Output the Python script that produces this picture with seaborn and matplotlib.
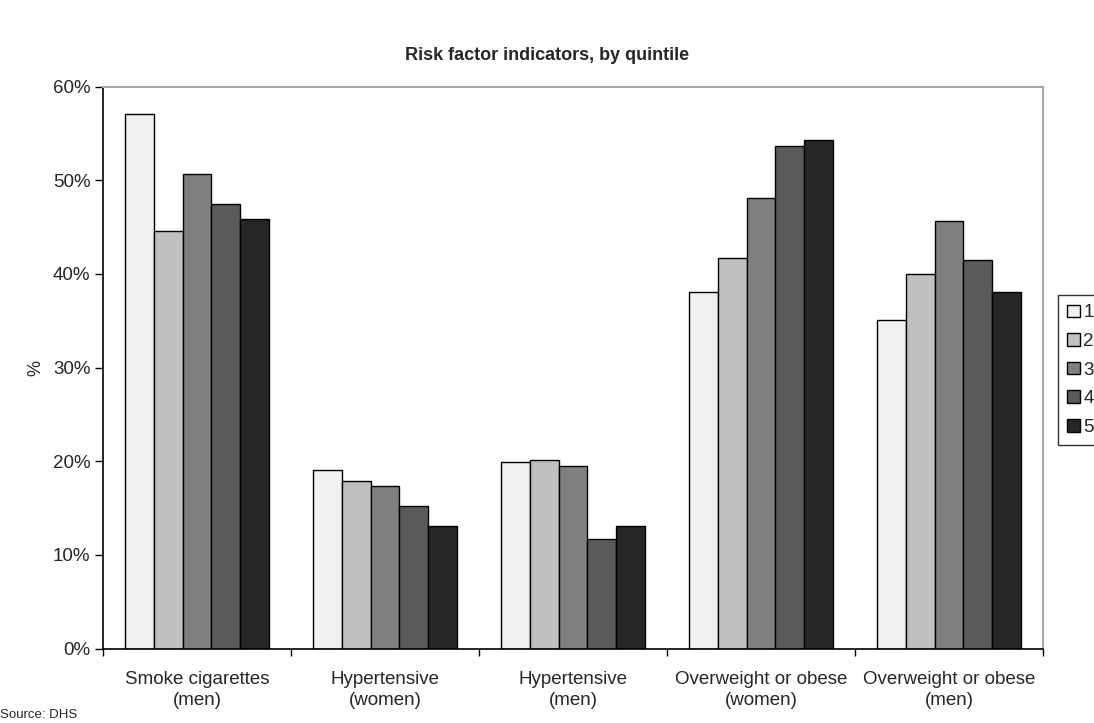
import matplotlib
matplotlib.use("Agg")
import matplotlib.pyplot as plt
import pandas as pd
import seaborn as sns
from matplotlib.ticker import FuncFormatter, FixedLocator

categories = ["Smoke cigarettes\n(men)", "Hypertensive\n(women)", "Hypertensive\n(men)",
              "Overweight or obese\n(women)", "Overweight or obese\n(men)"]
quintiles = ["1", "2", "3", "4", "5"]
q1 = [57.1, 19.1, 19.9, 38.1, 35.1]
q2 = [44.6, 17.9, 20.1, 41.7, 40.0]
q3 = [50.7, 17.4, 19.5, 48.1, 45.6]
q4 = [47.5, 15.2, 11.7, 53.7, 41.5]
q5 = [45.9, 13.1, 13.1, 54.3, 38.1]
colors = ["#f0f0f0", "#c0c0c0", "#808080", "#5a5a5a", "#262626"]

rows = []
for q, vals in zip(quintiles, [q1, q2, q3, q4, q5]):
    for c, v in zip(categories, vals):
        rows.append({"indicator": c, "quintile": q, "value": v})
df = pd.DataFrame(rows)

sns.set_style("white")
plt.rcParams["font.family"] = ["Liberation Sans", "DejaVu Sans"]

fig = plt.figure(figsize=(10.94, 7.23), dpi=100)
ax = fig.add_axes([103 / 1094, 1 - 648.5 / 723, 940 / 1094, 562 / 723])

sns.barplot(data=df, x="indicator", y="value", hue="quintile", order=categories,
            hue_order=quintiles, palette=colors, width=0.77, edgecolor="black",
            linewidth=1.0, saturation=1, ax=ax, legend=True)

ax.set_ylim(0, 60)
ax.set_xlim(-0.5, 4.5)
ax.set_yticks(range(0, 61, 10))
ax.yaxis.set_major_formatter(FuncFormatter(lambda v, p: f"{int(v)}%"))
ax.tick_params(axis="y", which="major", left=True, length=6, width=1, direction="out",
               labelsize=13.5, pad=3, color="black")
ax.tick_params(axis="x", which="major", bottom=False, labelsize=13.5, pad=13)
ax.xaxis.set_minor_locator(FixedLocator([-0.5, 0.5, 1.5, 2.5, 3.5, 4.5]))
ax.tick_params(axis="x", which="minor", bottom=True, length=5, width=1, direction="out",
               color="black")
for lbl in ax.get_xticklabels():
    lbl.set_linespacing(1.3)

ax.set_xlabel("")
ax.set_ylabel("%", fontsize=13, labelpad=6)

for side in ["left", "bottom"]:
    ax.spines[side].set_color("black")
    ax.spines[side].set_linewidth(1.2)
for side in ["top", "right"]:
    ax.spines[side].set_color("#a8a8a8")
    ax.spines[side].set_linewidth(1.5)

handles, labels = ax.get_legend_handles_labels()
ax.legend(handles, labels, loc="upper left", bbox_to_anchor=(1.016, 0.629),
          frameon=True, fancybox=False, edgecolor="black", fontsize=13.5,
          handlelength=0.65, handleheight=0.65, handletextpad=0.2,
          labelspacing=0.62, borderpad=0.5, borderaxespad=0)

fig.text(0.5, 1 - 55 / 723, "Risk factor indicators, by quintile", ha="center",
         va="center", fontsize=13, fontweight="bold")
fig.text(0, 1 - 715 / 723, "Source: DHS", ha="left", va="center", fontsize=9.5)

fig.savefig("out.png", dpi=100)
